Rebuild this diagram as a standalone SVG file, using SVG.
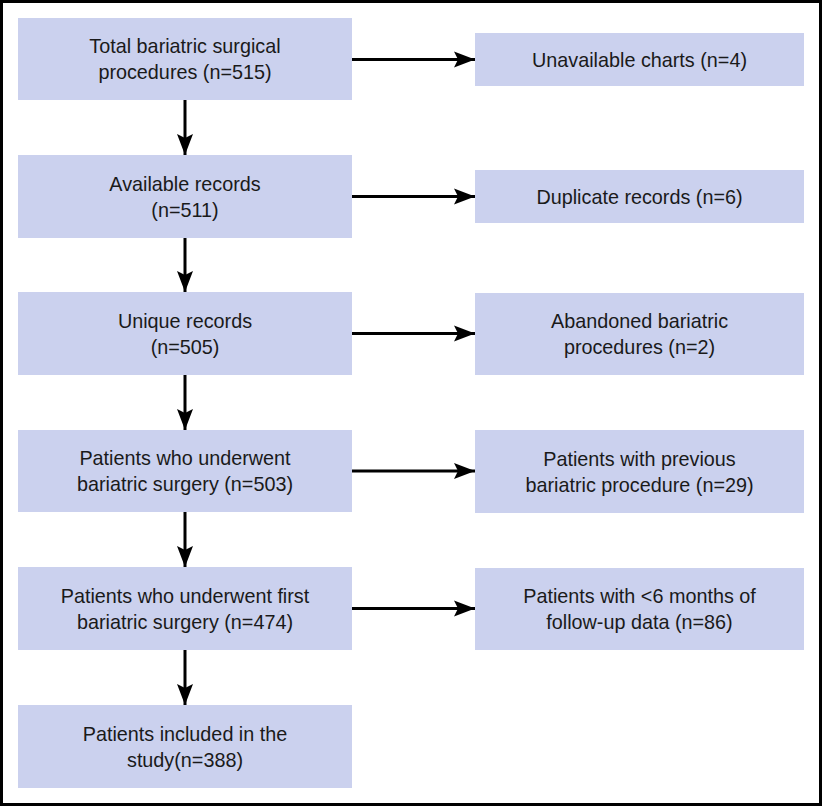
<svg xmlns="http://www.w3.org/2000/svg" width="822" height="806" viewBox="0 0 822 806">
<style>
.box{fill:#CBD1EE;}
.t{font-family:"Liberation Sans",Arial,Helvetica,sans-serif;font-size:19.8px;fill:#1a1a1a;text-anchor:middle;}
.c{stroke:#000;stroke-width:3;fill:none;marker-end:url(#ah);}
</style>
<defs>
<marker id="ah" markerUnits="userSpaceOnUse" markerWidth="24" markerHeight="18" refX="21" refY="9" orient="auto">
<path d="M0,1 L21,9 L0,17 L4,9 z" fill="#000"/>
</marker>
</defs>
<rect x="1.5" y="1.5" width="819" height="803" fill="#fff" stroke="#000" stroke-width="3"/>
<g id="connectors">
<line class="c" x1="185" y1="100" x2="185" y2="155"/>
<line class="c" x1="185" y1="238" x2="185" y2="292"/>
<line class="c" x1="185" y1="375" x2="185" y2="430"/>
<line class="c" x1="185" y1="512" x2="185" y2="567"/>
<line class="c" x1="185" y1="650" x2="185" y2="705"/>
<line class="c" x1="352" y1="59.5" x2="475" y2="59.5"/>
<line class="c" x1="352" y1="196.5" x2="475" y2="196.5"/>
<line class="c" x1="352" y1="333.5" x2="475" y2="333.5"/>
<line class="c" x1="352" y1="471" x2="475" y2="471"/>
<line class="c" x1="352" y1="608.5" x2="475" y2="608.5"/>
</g>
<g id="n1"><rect class="box" x="18" y="18" width="334" height="82"/><text class="t" x="185" y="53">Total bariatric surgical</text><text class="t" x="185" y="79">procedures (n=515)</text></g>
<g id="n2"><rect class="box" x="18" y="155" width="334" height="83"/><text class="t" x="185" y="190.5">Available records</text><text class="t" x="185" y="216.5">(n=511)</text></g>
<g id="n3"><rect class="box" x="18" y="292" width="334" height="83"/><text class="t" x="185" y="327.5">Unique records</text><text class="t" x="185" y="353.5">(n=505)</text></g>
<g id="n4"><rect class="box" x="18" y="430" width="334" height="82"/><text class="t" x="185" y="465">Patients who underwent</text><text class="t" x="185" y="491">bariatric surgery (n=503)</text></g>
<g id="n5"><rect class="box" x="18" y="567" width="334" height="83"/><text class="t" x="185" y="602.5">Patients who underwent first</text><text class="t" x="185" y="628.5">bariatric surgery (n=474)</text></g>
<g id="n6"><rect class="box" x="18" y="705" width="334" height="83"/><text class="t" x="185" y="740.5">Patients included in the</text><text class="t" x="185" y="766.5">study(n=388)</text></g>
<g id="r1"><rect class="box" x="475" y="33" width="329" height="53"/><text class="t" x="639.5" y="66.5">Unavailable charts (n=4)</text></g>
<g id="r2"><rect class="box" x="475" y="170" width="329" height="53"/><text class="t" x="639.5" y="203.5">Duplicate records (n=6)</text></g>
<g id="r3"><rect class="box" x="475" y="293" width="329" height="82"/><text class="t" x="639.5" y="328">Abandoned bariatric</text><text class="t" x="639.5" y="354">procedures (n=2)</text></g>
<g id="r4"><rect class="box" x="475" y="430" width="329" height="83"/><text class="t" x="639.5" y="465.5">Patients with previous</text><text class="t" x="639.5" y="491.5">bariatric procedure (n=29)</text></g>
<g id="r5"><rect class="box" x="475" y="568" width="329" height="82"/><text class="t" x="639.5" y="603">Patients with &lt;6 months of</text><text class="t" x="639.5" y="629">follow-up data (n=86)</text></g>
</svg>
